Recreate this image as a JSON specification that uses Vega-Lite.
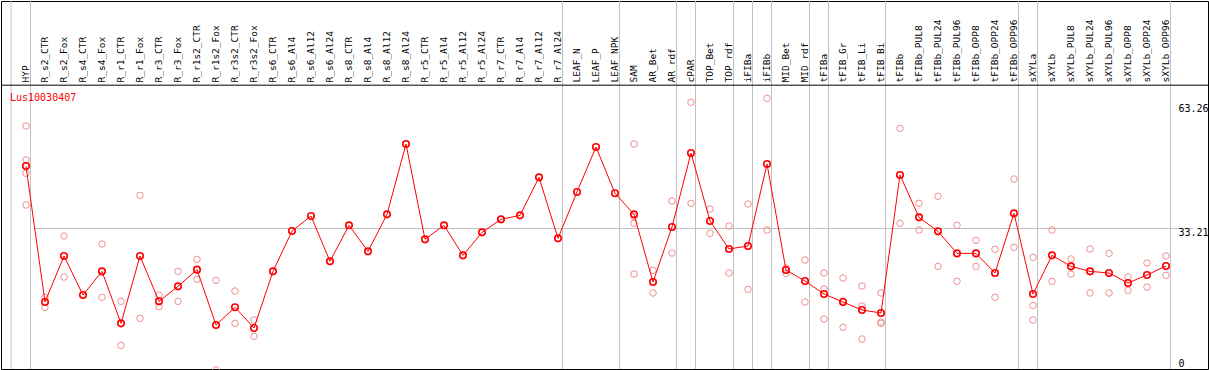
{
  "$schema": "https://vega.github.io/schema/vega-lite/v6.json",
  "width": 1207,
  "height": 368,
  "padding": {"left": 1, "top": 1, "right": 1, "bottom": 1},
  "autosize": {"type": "none"},
  "background": "white",
  "view": {"stroke": "black", "strokeWidth": 1},
  "config": {"font": "DejaVu Sans Mono"},
  "title": {"text": "Lus10030407", "anchor": "start", "orient": "top", "frame": "group", "color": "red", "font": "DejaVu Sans Mono", "fontSize": 10, "fontWeight": "normal", "baseline": "alphabetic", "offset": -110, "dx": 9},
  "datasets": {
    "means": [
      {"sample": "HYP", "value": 48.11},
      {"sample": "R_s2_CTR", "value": 15.40},
      {"sample": "R_s2_Fox", "value": 26.46},
      {"sample": "R_s4_CTR", "value": 17.08},
      {"sample": "R_s4_Fox", "value": 22.77},
      {"sample": "R_r1_CTR", "value": 10.26},
      {"sample": "R_r1_Fox", "value": 26.46},
      {"sample": "R_r3_CTR", "value": 15.55},
      {"sample": "R_r3_Fox", "value": 19.16},
      {"sample": "R_r1s2_CTR", "value": 23.18},
      {"sample": "R_r1s2_Fox", "value": 9.86},
      {"sample": "R_r3s2_CTR", "value": 14.12},
      {"sample": "R_r3s2_Fox", "value": 9.14},
      {"sample": "R_s6_CTR", "value": 22.77},
      {"sample": "R_s6_Al4", "value": 32.48},
      {"sample": "R_s6_Al12", "value": 36.08},
      {"sample": "R_s6_Al24", "value": 25.18},
      {"sample": "R_s8_CTR", "value": 33.84},
      {"sample": "R_s8_Al4", "value": 27.58},
      {"sample": "R_s8_Al12", "value": 36.48},
      {"sample": "R_s8_Al24", "value": 53.40},
      {"sample": "R_r5_CTR", "value": 30.47},
      {"sample": "R_r5_Al4", "value": 33.84},
      {"sample": "R_r5_Al12", "value": 26.62},
      {"sample": "R_r5_Al24", "value": 32.15},
      {"sample": "R_r7_CTR", "value": 35.28},
      {"sample": "R_r7_Al4", "value": 36.24},
      {"sample": "R_r7_Al12", "value": 45.38},
      {"sample": "R_r7_Al24", "value": 30.71},
      {"sample": "LEAF_N", "value": 41.86},
      {"sample": "LEAF_P", "value": 52.68},
      {"sample": "LEAF_NPK", "value": 41.54},
      {"sample": "SAM", "value": 36.48},
      {"sample": "AR_Bet", "value": 20.21},
      {"sample": "AR_rdf", "value": 33.44},
      {"sample": "cPAR", "value": 51.24},
      {"sample": "TOP_Bet", "value": 34.88},
      {"sample": "TOP_rdf", "value": 28.15},
      {"sample": "iFIBa", "value": 28.87},
      {"sample": "iFIBb", "value": 48.59},
      {"sample": "MID_Bet", "value": 23.09},
      {"sample": "MID_rdf", "value": 20.45},
      {"sample": "tFIBa", "value": 17.32},
      {"sample": "tFIB_Gr", "value": 15.40},
      {"sample": "tFIB_Li", "value": 13.47},
      {"sample": "tFIB_Bi", "value": 12.75},
      {"sample": "tFIBb", "value": 45.95},
      {"sample": "tFIBb_PUL8", "value": 35.76},
      {"sample": "tFIBb_PUL24", "value": 32.39},
      {"sample": "tFIBb_PUL96", "value": 27.10},
      {"sample": "tFIBb_OPP8", "value": 27.10},
      {"sample": "tFIBb_OPP24", "value": 22.37},
      {"sample": "tFIBb_OPP96", "value": 36.72},
      {"sample": "sXYLa", "value": 17.32},
      {"sample": "sXYLb", "value": 26.62},
      {"sample": "sXYLb_PUL8", "value": 23.97},
      {"sample": "sXYLb_PUL24", "value": 22.77},
      {"sample": "sXYLb_PUL96", "value": 22.37},
      {"sample": "sXYLb_OPP8", "value": 19.97},
      {"sample": "sXYLb_OPP24", "value": 21.89},
      {"sample": "sXYLb_OPP96", "value": 24.06}
    ],
    "reps": [
      {"sample": "HYP", "value": 57.73}, {"sample": "HYP", "value": 49.55}, {"sample": "HYP", "value": 46.35}, {"sample": "HYP", "value": 38.73},
      {"sample": "R_s2_CTR", "value": 16.52}, {"sample": "R_s2_CTR", "value": 14.12},
      {"sample": "R_s2_Fox", "value": 31.27}, {"sample": "R_s2_Fox", "value": 21.41},
      {"sample": "R_s4_Fox", "value": 29.35}, {"sample": "R_s4_Fox", "value": 16.52},
      {"sample": "R_r1_CTR", "value": 15.55}, {"sample": "R_r1_CTR", "value": 4.97},
      {"sample": "R_r1_Fox", "value": 41.05}, {"sample": "R_r1_Fox", "value": 11.46},
      {"sample": "R_r3_CTR", "value": 17.08}, {"sample": "R_r3_CTR", "value": 14.28},
      {"sample": "R_r3_Fox", "value": 22.77}, {"sample": "R_r3_Fox", "value": 15.55},
      {"sample": "R_r1s2_CTR", "value": 25.67}, {"sample": "R_r1s2_CTR", "value": 20.86},
      {"sample": "R_r1s2_Fox", "value": 20.61}, {"sample": "R_r1s2_Fox", "value": -0.95},
      {"sample": "R_r3s2_CTR", "value": 18.04}, {"sample": "R_r3s2_CTR", "value": 10.26},
      {"sample": "R_r3s2_Fox", "value": 11.07}, {"sample": "R_r3s2_Fox", "value": 7.14},
      {"sample": "SAM", "value": 53.40}, {"sample": "SAM", "value": 35.92}, {"sample": "SAM", "value": 34.32}, {"sample": "SAM", "value": 22.13},
      {"sample": "AR_Bet", "value": 23.01}, {"sample": "AR_Bet", "value": 17.56},
      {"sample": "AR_rdf", "value": 39.69}, {"sample": "AR_rdf", "value": 27.18},
      {"sample": "cPAR", "value": 63.43}, {"sample": "cPAR", "value": 39.13},
      {"sample": "TOP_Bet", "value": 37.77}, {"sample": "TOP_Bet", "value": 31.91},
      {"sample": "TOP_rdf", "value": 33.68}, {"sample": "TOP_rdf", "value": 22.37},
      {"sample": "iFIBa", "value": 38.97}, {"sample": "iFIBa", "value": 18.44},
      {"sample": "iFIBb", "value": 64.39}, {"sample": "iFIBb", "value": 32.72},
      {"sample": "MID_Bet", "value": 23.57}, {"sample": "MID_Bet", "value": 22.29},
      {"sample": "MID_rdf", "value": 25.50}, {"sample": "MID_rdf", "value": 15.40},
      {"sample": "tFIBa", "value": 22.37}, {"sample": "tFIBa", "value": 18.52}, {"sample": "tFIBa", "value": 11.31},
      {"sample": "tFIB_Gr", "value": 21.17}, {"sample": "tFIB_Gr", "value": 15.64}, {"sample": "tFIB_Gr", "value": 9.30},
      {"sample": "tFIB_Li", "value": 19.24}, {"sample": "tFIB_Li", "value": 14.43}, {"sample": "tFIB_Li", "value": 6.50},
      {"sample": "tFIB_Bi", "value": 17.56}, {"sample": "tFIB_Bi", "value": 10.58}, {"sample": "tFIB_Bi", "value": 10.26},
      {"sample": "tFIBb", "value": 57.17}, {"sample": "tFIBb", "value": 34.32},
      {"sample": "tFIBb_PUL8", "value": 39.13}, {"sample": "tFIBb_PUL8", "value": 32.72},
      {"sample": "tFIBb_PUL24", "value": 40.81}, {"sample": "tFIBb_PUL24", "value": 23.97},
      {"sample": "tFIBb_PUL96", "value": 33.84}, {"sample": "tFIBb_PUL96", "value": 20.37},
      {"sample": "tFIBb_OPP8", "value": 30.23}, {"sample": "tFIBb_OPP8", "value": 23.97},
      {"sample": "tFIBb_OPP24", "value": 28.07}, {"sample": "tFIBb_OPP24", "value": 16.52},
      {"sample": "tFIBb_OPP96", "value": 44.98}, {"sample": "tFIBb_OPP96", "value": 28.55},
      {"sample": "sXYLa", "value": 26.14}, {"sample": "sXYLa", "value": 14.59}, {"sample": "sXYLa", "value": 11.07},
      {"sample": "sXYLb", "value": 32.72}, {"sample": "sXYLb", "value": 20.37},
      {"sample": "sXYLb_PUL8", "value": 25.74}, {"sample": "sXYLb_PUL8", "value": 22.13},
      {"sample": "sXYLb_PUL24", "value": 28.15}, {"sample": "sXYLb_PUL24", "value": 17.56},
      {"sample": "sXYLb_PUL96", "value": 27.10}, {"sample": "sXYLb_PUL96", "value": 17.56},
      {"sample": "sXYLb_OPP8", "value": 21.41}, {"sample": "sXYLb_OPP8", "value": 18.20},
      {"sample": "sXYLb_OPP24", "value": 24.78}, {"sample": "sXYLb_OPP24", "value": 19.00},
      {"sample": "sXYLb_OPP96", "value": 26.46}, {"sample": "sXYLb_OPP96", "value": 21.82}
    ],
    "sepsAfter": [
      {"sample": "HYP"}, {"sample": "R_r7_Al24"}, {"sample": "LEAF_NPK"}, {"sample": "AR_rdf"},
      {"sample": "cPAR"}, {"sample": "TOP_rdf"}, {"sample": "iFIBa"}, {"sample": "iFIBb"},
      {"sample": "MID_rdf"}, {"sample": "tFIBa"}, {"sample": "tFIB_Bi"}, {"sample": "tFIBb_OPP96"},
      {"sample": "sXYLa"}, {"sample": "sXYLb_OPP96"}
    ],
    "sepsBefore": [{"sample": "HYP"}],
    "header": [{"level": 67.55}]
  },
  "layer": [
    {
      "data": {"name": "sepsBefore"},
      "mark": {"type": "rule", "color": "#c0c0c0", "strokeWidth": 1},
      "encoding": {"x": {"field": "sample", "type": "nominal", "scale": {"type": "band"}, "bandPosition": -0.289}}
    },
    {
      "data": {"name": "sepsAfter"},
      "mark": {"type": "rule", "color": "#c0c0c0", "strokeWidth": 1},
      "encoding": {"x": {"field": "sample", "type": "nominal", "scale": {"type": "band"}, "bandPosition": 0.737}}
    },
    {
      "data": {"name": "header"},
      "mark": {"type": "rule", "color": "black", "strokeWidth": 1},
      "encoding": {"y": {"field": "level", "type": "quantitative"}}
    },
    {
      "data": {"name": "reps"},
      "mark": {"type": "point", "shape": "circle", "filled": false, "stroke": "#f09090", "strokeWidth": 1, "size": 42, "opacity": 1},
      "encoding": {
        "x": {"field": "sample", "type": "nominal", "scale": {"type": "band"}, "bandPosition": 0.5},
        "y": {"field": "value", "type": "quantitative"}
      }
    },
    {
      "data": {"name": "means"},
      "mark": {"type": "line", "color": "red", "strokeWidth": 1},
      "encoding": {
        "x": {"field": "sample", "type": "nominal", "scale": {"type": "band"}, "bandPosition": 0.5, "sort": null},
        "y": {"field": "value", "type": "quantitative"}
      }
    },
    {
      "data": {"name": "means"},
      "mark": {"type": "point", "shape": "circle", "filled": false, "stroke": "red", "strokeWidth": 1.6, "size": 42, "opacity": 1},
      "encoding": {
        "x": {
          "field": "sample", "type": "nominal", "bandPosition": 0.5, "sort": null,
          "scale": {
            "type": "band", "paddingInner": 0, "paddingOuter": 0, "range": [15.5, 1174.5],
            "domain": ["HYP","R_s2_CTR","R_s2_Fox","R_s4_CTR","R_s4_Fox","R_r1_CTR","R_r1_Fox","R_r3_CTR","R_r3_Fox","R_r1s2_CTR","R_r1s2_Fox","R_r3s2_CTR","R_r3s2_Fox","R_s6_CTR","R_s6_Al4","R_s6_Al12","R_s6_Al24","R_s8_CTR","R_s8_Al4","R_s8_Al12","R_s8_Al24","R_r5_CTR","R_r5_Al4","R_r5_Al12","R_r5_Al24","R_r7_CTR","R_r7_Al4","R_r7_Al12","R_r7_Al24","LEAF_N","LEAF_P","LEAF_NPK","SAM","AR_Bet","AR_rdf","cPAR","TOP_Bet","TOP_rdf","iFIBa","iFIBb","MID_Bet","MID_rdf","tFIBa","tFIB_Gr","tFIB_Li","tFIB_Bi","tFIBb","tFIBb_PUL8","tFIBb_PUL24","tFIBb_PUL96","tFIBb_OPP8","tFIBb_OPP24","tFIBb_OPP96","sXYLa","sXYLb","sXYLb_PUL8","sXYLb_PUL24","sXYLb_PUL96","sXYLb_OPP8","sXYLb_OPP24","sXYLb_OPP96"]
          },
          "axis": {
            "orient": "top", "title": null, "labelAngle": -90, "labelAlign": "left", "labelBaseline": "middle",
            "labelPadding": -81, "ticks": false, "tickSize": 0, "domain": false, "grid": false,
            "labelFont": "DejaVu Sans Mono", "labelFontSize": 9.5, "labelColor": "black",
            "labelOverlap": false, "labelBound": false, "labelLimit": 200
          }
        },
        "y": {
          "field": "value", "type": "quantitative",
          "scale": {"domain": [-0.72, 87.8], "nice": false, "zero": false},
          "axis": {
            "orient": "right", "title": null, "values": [0, 33.21, 63.26], "format": ".2~f",
            "domain": false, "ticks": false, "tickSize": 0, "labelPadding": -30, "labelAlign": "left",
            "labelBaseline": {"condition": {"test": "datum.value == 0", "value": "alphabetic"}, "value": "top"},
            "labelFont": "DejaVu Sans Mono", "labelFontSize": 10, "labelColor": "black",
            "labelFlush": false, "labelOverlap": false, "labelBound": false,
            "grid": true, "gridWidth": 1,
            "gridColor": {"condition": {"test": "datum.value == 33.21", "value": "#c0c0c0"}, "value": "transparent"}
          }
        }
      }
    }
  ]
}
